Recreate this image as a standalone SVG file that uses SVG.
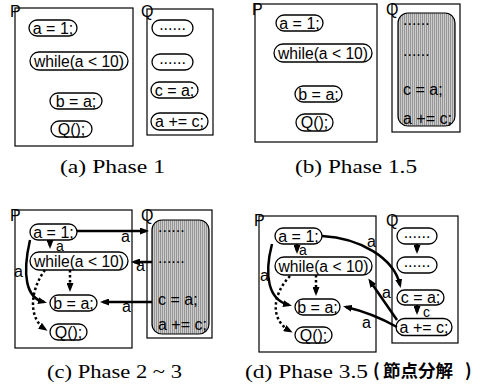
<svg xmlns="http://www.w3.org/2000/svg" width="480" height="387" viewBox="0 0 480 387">
<defs>
<style>
.box{fill:none;stroke:#000;stroke-width:1.2}
.pill{fill:#fff;stroke:#000;stroke-width:1.3}
.sh{fill:url(#hatch);stroke:#000;stroke-width:1.2}
.t{font-family:"Liberation Sans",Arial,sans-serif;font-size:16px;fill:#000}
.c{text-anchor:middle}
.lbl{font-family:"Liberation Sans",Arial,sans-serif;font-size:16px;fill:#000}
.sm{font-size:14px}
.cap{font-family:"Liberation Serif","Times New Roman",serif;font-size:18px;fill:#000}
.cjk{font-family:"Noto Sans CJK JP","Noto Sans CJK SC",sans-serif;font-size:17.5px;font-weight:700;fill:#000}
.e{fill:none;stroke:#000;stroke-width:2.5;marker-end:url(#ah)}
.d{fill:none;stroke:#000;stroke-width:2.5;stroke-dasharray:2.5 2.5;marker-end:url(#ah)}
</style>
<pattern id="hatch" width="2" height="3" patternUnits="userSpaceOnUse">
<rect width="2" height="3" fill="#cdcdcd"/>
<rect width="1" height="3" fill="#959595"/>
</pattern>
<marker id="ah" markerWidth="9" markerHeight="7" refX="6" refY="3.5" orient="auto" markerUnits="userSpaceOnUse">
<path d="M0,0 L9,3.5 L0,7 z" fill="#000"/>
</marker>
</defs>
<rect width="480" height="387" fill="#fff"/>

<!-- Panel (a) -->
<g id="a-P"><rect class="box" x="15" y="8" width="118" height="138"/><text class="t" x="10" y="17">P</text></g>
<g id="a-Q"><rect class="box" x="147" y="9" width="66" height="126"/><text class="t" x="141" y="17">Q</text></g>
<g id="a-n1"><rect class="pill" x="29" y="20" width="48" height="16" rx="8"/><text class="t c" x="53" y="33.5">a = 1;</text></g>
<g id="a-n2"><rect class="pill" x="30" y="52" width="98" height="18" rx="9"/><text class="t c" x="79" y="66.5" textLength="90" lengthAdjust="spacingAndGlyphs">while(a &lt; 10)</text></g>
<g id="a-n3"><rect class="pill" x="50" y="93" width="52" height="16" rx="8"/><text class="t c" x="76" y="106.5">b = a;</text></g>
<g id="a-n4"><rect class="pill" x="51" y="121" width="41" height="16" rx="8"/><text class="t c" x="71.5" y="134.5">Q();</text></g>
<g id="a-q1"><rect class="pill" x="152" y="20" width="41" height="16" rx="8"/><text class="t c" x="172.5" y="30">......</text></g>
<g id="a-q2"><rect class="pill" x="152" y="54" width="41" height="16" rx="8"/><text class="t c" x="172.5" y="64">......</text></g>
<g id="a-q3"><rect class="pill" x="151" y="82" width="47" height="16" rx="8"/><text class="t c" x="174.5" y="95.5">c = a;</text></g>
<g id="a-q4"><rect class="pill" x="151" y="113" width="57" height="17" rx="8.5"/><text class="t c" x="179.5" y="127">a += c;</text></g>
<text class="cap" x="60" y="172.5" textLength="105" lengthAdjust="spacingAndGlyphs">(a) Phase 1</text>

<!-- Panel (b) -->
<g id="b-P"><rect class="box" x="255" y="4" width="122" height="138"/><text class="t" x="252" y="15">P</text></g>
<g id="b-Q"><rect class="box" x="392" y="4" width="68" height="128"/><text class="t" x="386" y="15">Q</text></g>
<g id="b-qshade"><rect class="sh" x="398" y="13" width="57" height="113" rx="10"/>
<text class="t" x="403" y="25">......</text><text class="t" x="403" y="56">......</text>
<text class="t" x="403" y="95">c = a;</text><text class="t" x="403" y="124">a += c;</text></g>
<g id="b-n1"><rect class="pill" x="276" y="15" width="47" height="16" rx="8"/><text class="t c" x="299.5" y="28.5">a = 1;</text></g>
<g id="b-n2"><rect class="pill" x="274" y="44" width="98" height="18" rx="9"/><text class="t c" x="323" y="58.5" textLength="90" lengthAdjust="spacingAndGlyphs">while(a &lt; 10)</text></g>
<g id="b-n3"><rect class="pill" x="295" y="86" width="47" height="16" rx="8"/><text class="t c" x="318.5" y="99.5">b = a;</text></g>
<g id="b-n4"><rect class="pill" x="296" y="114" width="37" height="17" rx="8.5"/><text class="t c" x="314.5" y="128">Q();</text></g>
<text class="cap" x="295" y="172.5" textLength="122" lengthAdjust="spacingAndGlyphs">(b) Phase 1.5</text>

<!-- Panel (c) -->
<g id="c-P"><rect class="box" x="15" y="210" width="117" height="138"/><text class="t" x="10" y="221">P</text></g>
<g id="c-Q"><rect class="box" x="147" y="210" width="65" height="128"/><text class="t" x="141" y="221">Q</text></g>
<g id="c-qshade"><rect class="sh" x="152" y="220" width="57" height="114" rx="10"/>
<text class="t" x="158" y="232">......</text><text class="t" x="158" y="263">......</text>
<text class="t" x="158" y="305">c = a;</text><text class="t" x="158" y="330">a += c;</text></g>
<g id="c-n1"><rect class="pill" x="30" y="224" width="47" height="16" rx="8"/><text class="t c" x="53.5" y="237.5">a = 1;</text></g>
<g id="c-n2"><rect class="pill" x="30" y="252" width="98" height="18" rx="9"/><text class="t c" x="79" y="266.5" textLength="90" lengthAdjust="spacingAndGlyphs">while(a &lt; 10)</text></g>
<g id="c-n3"><rect class="pill" x="50" y="295" width="47" height="16" rx="8"/><text class="t c" x="73.5" y="308.5">b = a;</text></g>
<g id="c-n4"><rect class="pill" x="50" y="324" width="37" height="16" rx="8"/><text class="t c" x="68.5" y="337.5">Q();</text></g>
<g id="c-edges">
<path class="e" d="M77,231 H146"/>
<path class="e" d="M50,240 V246"/>
<path class="e" d="M152,262 H134"/>
<path class="e" d="M152,302 H103"/>
<path class="e" d="M30,240 C22,275 26,298 44,302"/>
<path class="d" d="M70,270 V289"/>
<path class="d" d="M45,270 C30,290 28,318 45,329"/>
<text class="lbl" x="121" y="242">a</text>
<text class="lbl sm" x="56" y="250.5">a</text>
<text class="lbl" x="136" y="271">a</text>
<text class="lbl" x="122" y="312">a</text>
<text class="lbl" x="14" y="277">a</text>
</g>
<text class="cap" x="47" y="378" textLength="135" lengthAdjust="spacingAndGlyphs">(c) Phase 2 ~ 3</text>

<!-- Panel (d) -->
<g id="d-P"><rect class="box" x="259" y="216" width="117" height="136"/><text class="t" x="254" y="226">P</text></g>
<g id="d-Q"><rect class="box" x="392" y="216" width="66" height="127"/><text class="t" x="386" y="226">Q</text></g>
<g id="d-n1"><rect class="pill" x="275" y="228" width="47" height="16" rx="8"/><text class="t c" x="298.5" y="241.5">a = 1;</text></g>
<g id="d-n2"><rect class="pill" x="275" y="257" width="97" height="18" rx="9"/><text class="t c" x="323.5" y="271.5" textLength="90" lengthAdjust="spacingAndGlyphs">while(a &lt; 10)</text></g>
<g id="d-n3"><rect class="pill" x="295" y="299" width="45" height="16" rx="8"/><text class="t c" x="317.5" y="312.5">b = a;</text></g>
<g id="d-n4"><rect class="pill" x="295" y="327" width="37" height="16" rx="8"/><text class="t c" x="313.5" y="340.5">Q();</text></g>
<g id="d-q1"><rect class="pill" x="397" y="228" width="40" height="16" rx="8"/><text class="t c" x="417" y="238">......</text></g>
<g id="d-q2"><rect class="pill" x="397" y="257" width="40" height="16" rx="8"/><text class="t c" x="417" y="267">......</text></g>
<g id="d-q3"><rect class="pill" x="397" y="290" width="47" height="15" rx="7.5"/><text class="t c" x="420.5" y="303">c = a;</text></g>
<g id="d-q4"><rect class="pill" x="396" y="318.5" width="56" height="17" rx="8.5"/><text class="t c" x="424" y="332.5">a += c;</text></g>
<g id="d-edges">
<path class="e" d="M417,244 V251"/>
<path class="e" d="M417,305 V312"/>
<path class="e" d="M297,244 V251"/>
<path class="e" d="M322,236 C360,238 394,258 400,285"/>
<path class="e" d="M397,320 L370,281"/>
<path class="e" d="M397,327 Q372,313 346,307"/>
<path class="e" d="M272,244 C264,275 268,300 289,305"/>
<path class="d" d="M316,275 V293"/>
<path class="d" d="M290,276 C272,295 270,320 290,331"/>
<text class="lbl sm" x="423" y="316.5">c</text>
<text class="lbl sm" x="299" y="255">a</text>
<text class="lbl" x="367" y="247">a</text>
<text class="lbl" x="382" y="298">a</text>
<text class="lbl" x="362" y="328">a</text>
<text class="lbl" x="260" y="281">a</text>
</g>
<text class="cap" x="245" y="378" textLength="123" lengthAdjust="spacingAndGlyphs">(d) Phase 3.5</text>
<text class="cjk" y="377"><tspan x="373">(</tspan><tspan x="383" textLength="70" lengthAdjust="spacingAndGlyphs">節点分解</tspan><tspan x="465">)</tspan></text>
</svg>
